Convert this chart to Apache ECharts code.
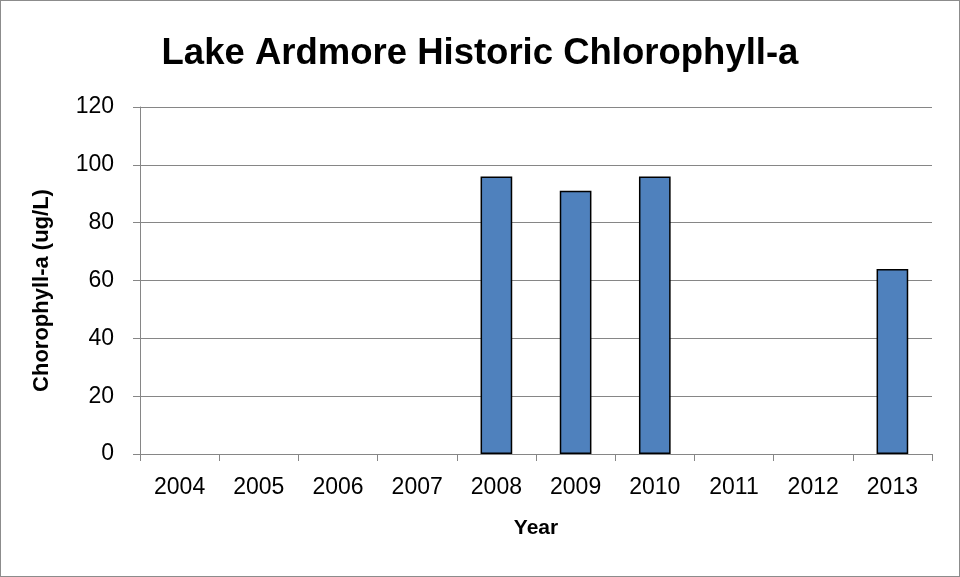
<!DOCTYPE html>
<html><head><meta charset="utf-8">
<script src="https://cdn.jsdelivr.net/npm/echarts@6/dist/echarts.min.js"></script>
<style>html,body{margin:0;padding:0;background:#fff}#c{width:960px;height:577px;box-sizing:border-box;border:1px solid #8c8c8c}</style>
</head><body><div id="c"></div>
<script>
const years = ['2004','2005','2006','2007','2008','2009','2010','2011','2012','2013'];
const chlorophyll = [null,null,null,null,96,91,96,null,null,64];
const yTicks = {min:0,max:120,interval:20};
const font = 'Liberation Sans, Arial, sans-serif';
const chart = echarts.init(document.getElementById('c'));
chart.setOption({
  animation:false,
  title:{text:'Lake Ardmore Historic Chlorophyll-a',left:474,top:29,textAlign:'center',
    textStyle:{fontFamily:font,fontSize:36.5,fontWeight:'bold',color:'#000'}},
  grid:{left:139,right:27,top:106,bottom:122},
  xAxis:{type:'category',data:years,
    name:'Year',nameLocation:'middle',nameGap:64,
    nameTextStyle:{fontFamily:font,fontSize:21,fontWeight:'bold',color:'#000'},
    axisLine:{lineStyle:{color:'#868686',width:1}},
    axisTick:{show:true,alignWithLabel:false,length:7,lineStyle:{color:'#868686'}},
    axisLabel:{fontFamily:font,fontSize:23,color:'#000',margin:22}},
  yAxis:{type:'value',min:yTicks.min,max:yTicks.max,interval:yTicks.interval,
    name:'Chorophyll-a (ug/L)',nameLocation:'middle',nameGap:87,nameRotate:90,
    nameTextStyle:{fontFamily:font,fontSize:22,fontWeight:'bold',color:'#000',padding:[0,20,0,0]},
    axisLine:{show:true,lineStyle:{color:'#868686'}},
    axisTick:{show:true,length:7,lineStyle:{color:'#868686'}},
    axisLabel:{fontFamily:font,fontSize:23,color:'#000',margin:26},
    splitLine:{lineStyle:{color:'#868686',width:1}}},
  series:[{type:'bar',data:chlorophyll,barWidth:'40%',
    itemStyle:{color:'#4F81BD',borderColor:'#000',borderWidth:1.5}}]
});
</script></body></html>
